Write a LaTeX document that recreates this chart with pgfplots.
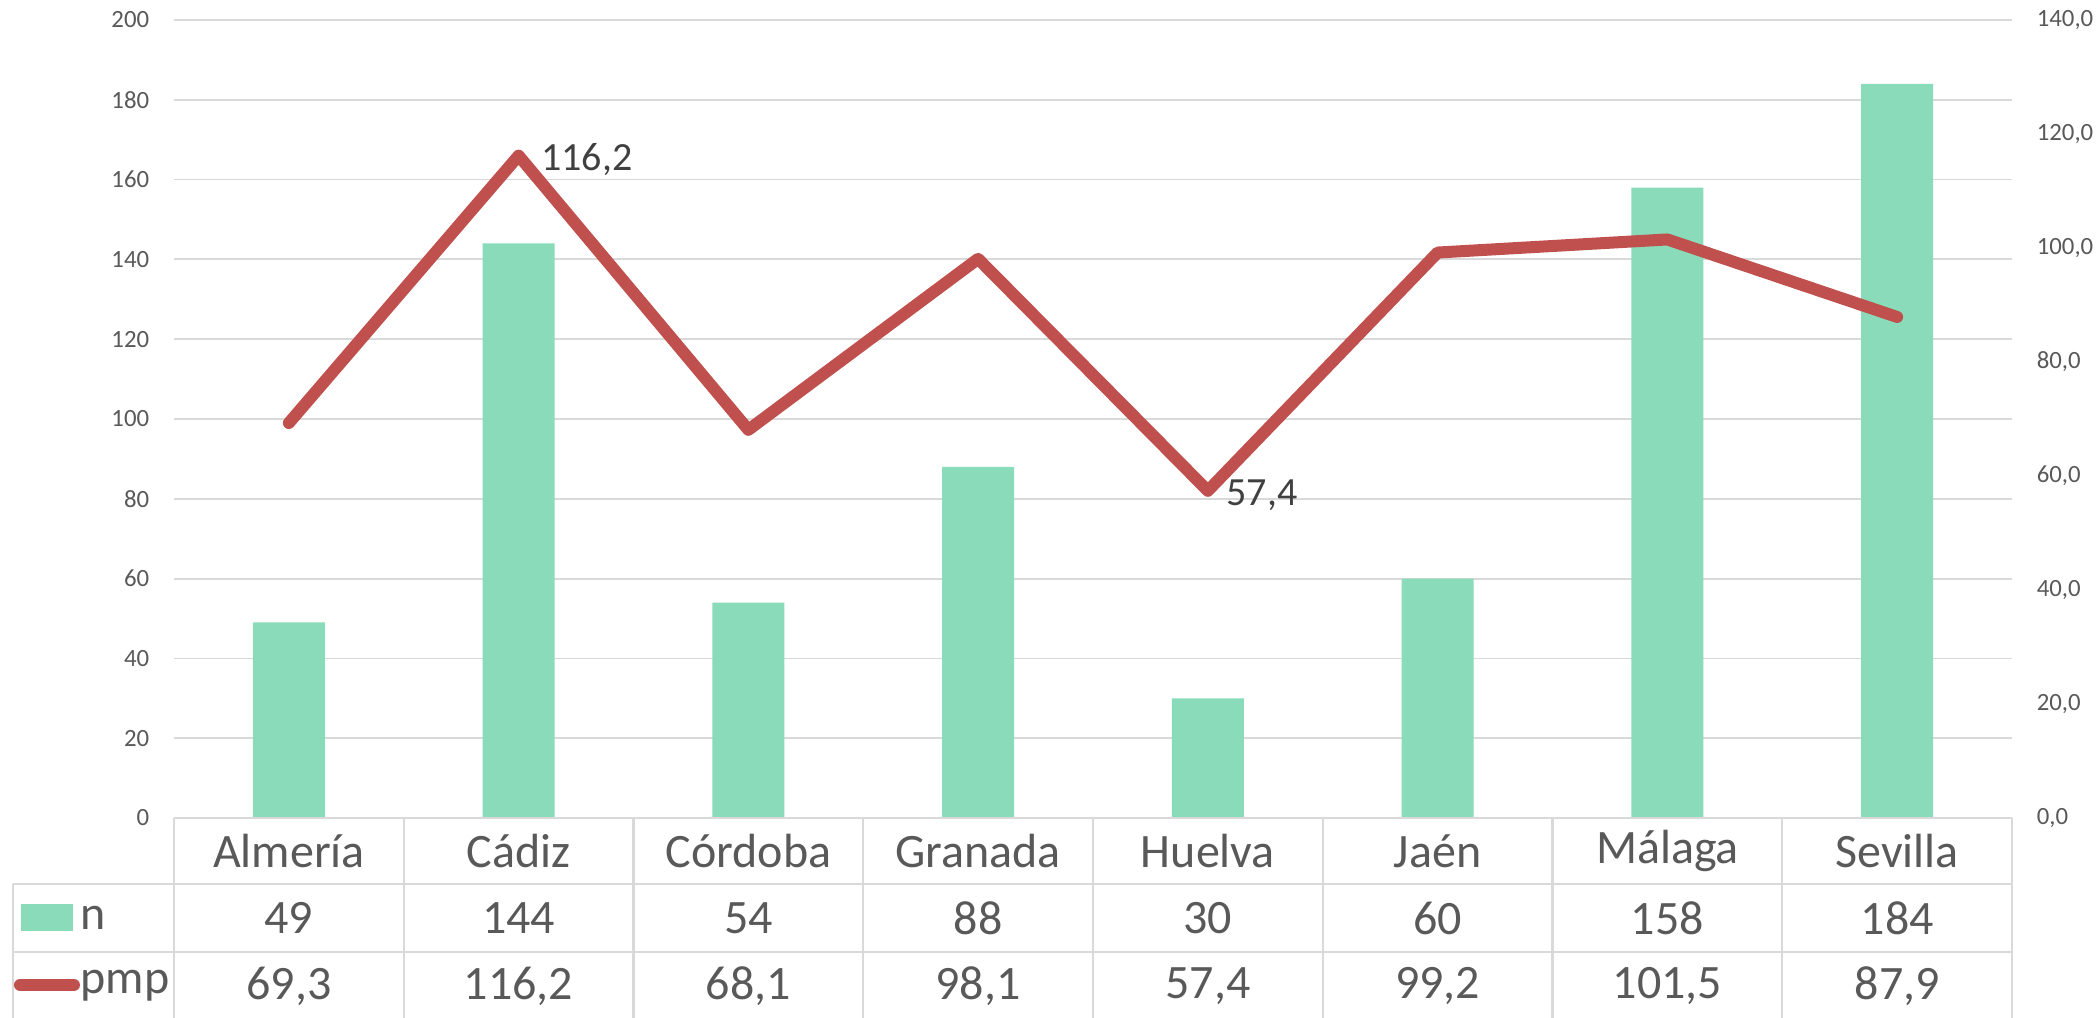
\documentclass[border=0pt]{standalone}
\usepackage{fontspec}
\setmainfont{Carlito}
\usepackage{pgfplots}
\pgfplotsset{compat=1.18}
\definecolor{barg}{RGB}{137,219,186}
\definecolor{linr}{RGB}{192,80,77}
\definecolor{gridc}{RGB}{217,217,217}
\definecolor{txt}{RGB}{89,89,89}
\definecolor{lbl}{RGB}{64,64,64}
\begin{document}
\begin{tikzpicture}
\begin{axis}[at={(0,0)}, anchor=south west, scale only axis,
  width=459.5pt, height=199.5pt,
  xmin=-0.5, xmax=7.5, ymin=0, ymax=200, ytick={0,20,...,200}, xtick=\empty,
  ybar, bar width=18pt,
  axis line style={draw=none}, tick style={draw=none},
  ymajorgrids, grid style={gridc, line width=0.45pt},
  yticklabel style={font=\fontsize{6.2}{7}\selectfont, text=txt, inner sep=0pt, xshift=-6pt},
  /pgf/number format/assume math mode=true, clip=false]
\addplot[fill=barg, draw=none] coordinates {(0,49) (1,144) (2,54) (3,88) (4,30) (5,60) (6,158) (7,184)};
\end{axis}
\begin{axis}[at={(0,0)}, anchor=south west, scale only axis,
  width=459.5pt, height=199.5pt,
  xmin=-0.5, xmax=7.5, ymin=0, ymax=140, ytick={0,20,...,140}, xtick=\empty,
  axis line style={draw=none}, tick style={draw=none},
  yticklabel pos=right,
  yticklabel style={font=\fontsize{6.2}{7}\selectfont, text=txt, inner sep=0pt, xshift=6pt,
    /pgf/number format/.cd, fixed, fixed zerofill, precision=1, use comma},
  /pgf/number format/assume math mode=true, clip=false]
\addplot[linr, line width=3pt, line join=round, line cap=round, mark=none] coordinates {(0,69.3) (1,116.2) (2,68.1) (3,98.1) (4,57.4) (5,99.2) (6,101.5) (7,87.9)};
\node[anchor=west, inner sep=0pt, xshift=5.5pt, yshift=-1pt, font=\fontsize{10}{12}\selectfont, text=lbl] at (axis cs:1,116.2) {116,2};
\node[anchor=west, inner sep=0pt, xshift=4.5pt, yshift=-1pt, font=\fontsize{10}{12}\selectfont, text=lbl] at (axis cs:4,57.4) {57,4};
\end{axis}
% data table
\begin{scope}[gridc, line width=0.6pt]
\draw (0,0) -- (459.5pt,0);
\draw (-40.25pt,-16.5pt) -- (459.5pt,-16.5pt);
\draw (-40.25pt,-33.5pt) -- (459.5pt,-33.5pt);
\draw (-40.25pt,-16.5pt) -- (-40.25pt,-50pt);
\foreach \k in {0,...,8} { \draw (\k*57.4375pt,0) -- (\k*57.4375pt,-50pt); }
\end{scope}
\foreach \name/\n/\p [count=\i from 0] in {Almería/49/{69,3}, Cádiz/144/{116,2}, Córdoba/54/{68,1}, Granada/88/{98,1}, Huelva/30/{57,4}, Jaén/60/{99,2}, Málaga/158/{101,5}, Sevilla/184/{87,9}} {
  \node[text=txt, font=\fontsize{12}{14}\selectfont] at (\i*57.4375pt+28.72pt,-8.25pt) {\name};
  \node[text=txt, font=\fontsize{12}{14}\selectfont] at (\i*57.4375pt+28.72pt,-25pt) {\n};
  \node[text=txt, font=\fontsize{12}{14}\selectfont] at (\i*57.4375pt+28.72pt,-42pt) {\p};
}
\fill[barg] (-38.25pt,-21.5pt) rectangle (-25.25pt,-28.25pt);
\draw[linr, line width=3pt, line cap=round] (-38.5pt,-41.75pt) -- (-25pt,-41.75pt);
\node[anchor=west, inner sep=0pt, text=txt, font=\fontsize{12}{14}\selectfont] at (-23.5pt,-25pt) {n};
\node[anchor=west, inner sep=0pt, text=txt, font=\fontsize{12}{14}\selectfont] at (-23.5pt,-42pt) {pmp};
\pgfresetboundingbox
\path[use as bounding box] (-43.5pt,-49.75pt) rectangle (480.5pt,204.5pt);
\end{tikzpicture}
\end{document}
